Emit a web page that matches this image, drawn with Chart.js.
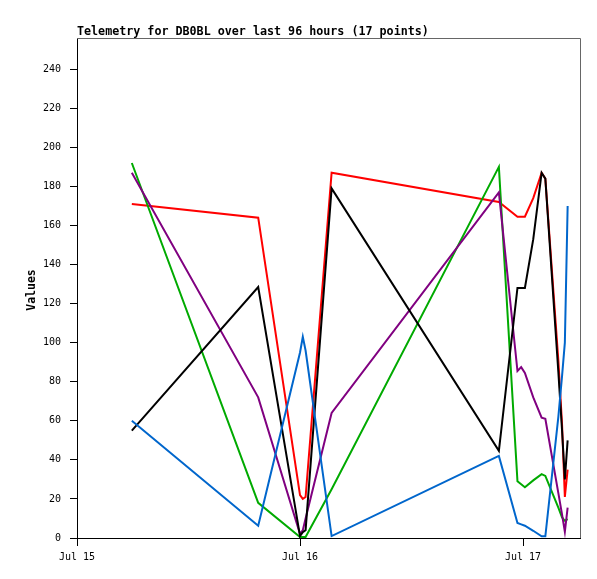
<!DOCTYPE html>
<html><head><meta charset="utf-8">
<script src="https://cdn.jsdelivr.net/npm/chart.js@4"></script>
<style>html,body{margin:0;padding:0;background:#fff}#wrap{width:597px;height:579px}</style>
</head><body><div id="wrap"><canvas id="c" width="597" height="579"></canvas></div>
<script>
// Time of each sample, hours since Jul 15 00:00
const hours = [5.9, 19.5, 24.0, 24.3, 24.6, 27.4, 45.4, 47.4, 47.8, 48.2, 49.1, 50.0, 50.4, 51.8, 52.2, 52.5, 52.8];
const redVals    = [171, 164, 22, 20, 21, 187, 172, 164.5, 164.5, 164.5, 174, 187, 184, 91, 58, 21, 35];
const greenVals  = [192, 18, 0.5, 0.5, 0.5, 25, 190, 29, 27.5, 26, 29.5, 32.7, 31.8, 15.5, 10.5, 8.8, 9.7];
const purpleVals = [187, 72, 2, 4, 10, 64, 177, 85.5, 87.5, 84.5, 72, 61.6, 61, 23, 12, 3.2, 15.6];
const blackVals  = [55, 128.5, 1, 3, 4, 179, 44.6, 128, 128, 128, 153, 187, 184, 85, 55, 30, 50];
const blueVals   = [60, 6.3, 95, 103, 96, 1, 42, 7.7, 7, 6.3, 3.7, 0.9, 0.9, 62, 83, 100, 170];
const xTickHours = [0, 24, 48];
const xTickLabels = ['Jul 15', 'Jul 16', 'Jul 17'];
const yTicks = [0, 20, 40, 60, 80, 100, 120, 140, 160, 180, 200, 220, 240];
const titleText = 'Telemetry for DB0BL over last 96 hours (17 points)';
const yTitle = 'Values';

const pts = arr => arr.map((v, i) => ({x: hours[i], y: v}));
const mk = (data, color, order) => ({data: pts(data), borderColor: color, borderWidth: 2, pointRadius: 0, tension: 0, fill: false, order});

const mono = '"DejaVu Sans Mono", "Liberation Mono", monospace';
const tickFont = {family: mono, size: 10};

const decor = {
  id: 'decor',
  beforeDatasetsDraw(chart) {
    const {ctx, chartArea: a} = chart;
    ctx.save();
    ctx.strokeStyle = '#666';
    ctx.lineWidth = 1;
    ctx.beginPath();
    ctx.moveTo(a.left, Math.round(a.top) + 0.5);
    ctx.lineTo(Math.round(a.right) + 0.5, Math.round(a.top) + 0.5);
    ctx.lineTo(Math.round(a.right) + 0.5, a.bottom);
    ctx.stroke();
    ctx.fillStyle = '#000';
    ctx.font = 'bold 11.7px ' + mono;
    ctx.textAlign = 'left';
    ctx.textBaseline = 'alphabetic';
    ctx.fillText(titleText, a.left, a.top - 3);
    ctx.translate(32, (a.top + a.bottom) / 2 + 2);
    ctx.rotate(-Math.PI / 2);
    ctx.textAlign = 'center';
    ctx.textBaseline = 'middle';
    ctx.font = 'bold 11.5px ' + mono;
    ctx.fillText(yTitle, 0, 0);
    ctx.restore();
  }
};

new Chart(document.getElementById('c'), {
  type: 'line',
  data: {
    datasets: [
      mk(redVals, '#ff0000', 4),
      mk(greenVals, '#00aa00', 3),
      mk(purpleVals, '#800080', 2),
      mk(blackVals, '#000000', 1),
      mk(blueVals, '#0066cc', 0)
    ]
  },
  options: {
    responsive: false,
    animation: false,
    devicePixelRatio: 1,
    layout: {padding: {top: 38, right: 17, left: 0, bottom: 0}},
    plugins: {legend: {display: false}, tooltip: {enabled: false}, title: {display: false}},
    scales: {
      x: {
        type: 'linear', min: 0, max: 54.13,
        afterBuildTicks: s => { s.ticks = xTickHours.map(v => ({value: v})); },
        afterFit: s => { s.height = 41; },
        ticks: {font: tickFont, color: '#000', padding: 5, maxRotation: 0, autoSkip: false,
                callback: (v, i) => xTickLabels[i]},
        grid: {drawOnChartArea: false, drawTicks: true, tickLength: 8, color: '#000'},
        border: {color: '#000', width: 1}
      },
      y: {
        min: 0, max: 256,
        afterBuildTicks: s => { s.ticks = yTicks.map(v => ({value: v})); },
        afterFit: s => { s.width = 77; },
        ticks: {font: tickFont, color: '#000', padding: 9},
        grid: {drawOnChartArea: false, drawTicks: true, tickLength: 7, color: '#000'},
        border: {color: '#000', width: 1}
      }
    }
  },
  plugins: [decor]
});
</script>
</body></html>
